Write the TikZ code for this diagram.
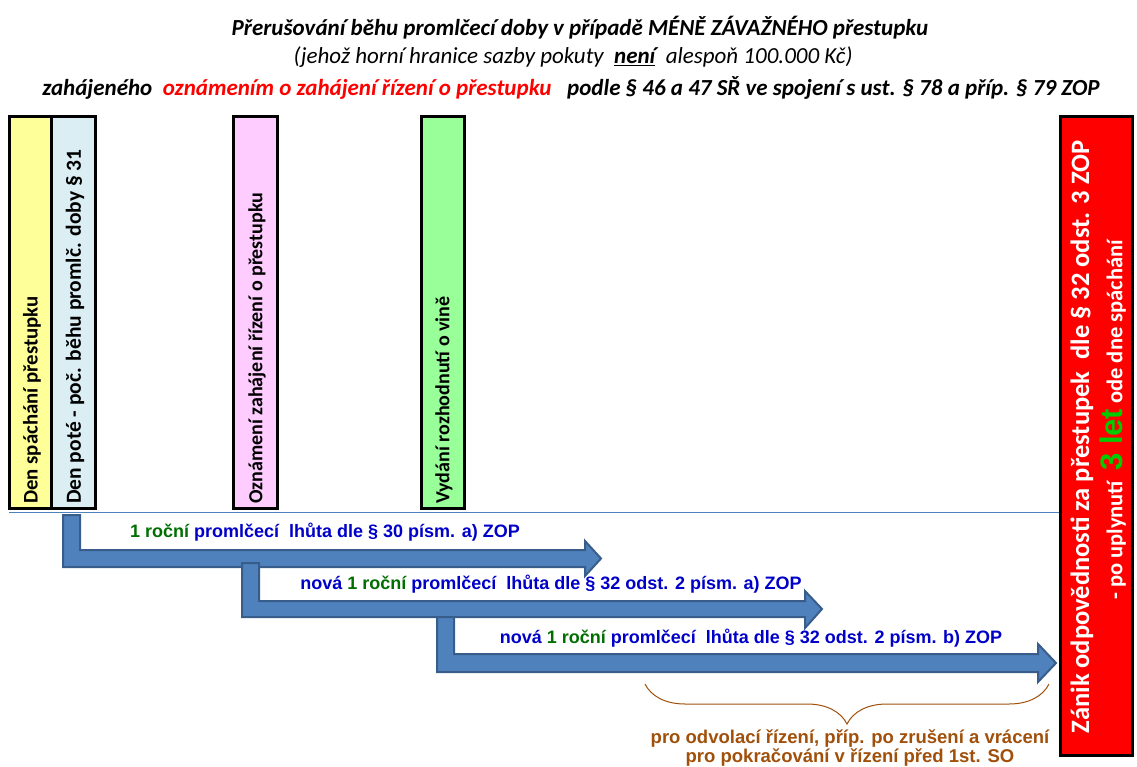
\documentclass[tikz,border=0pt]{standalone}
\usepackage{fontspec}
\setmainfont{Carlito}
\newfontfamily\arialfont{Liberation Sans}
\usetikzlibrary{decorations.pathreplacing}

\definecolor{boxyellow}{RGB}{255,255,153}
\definecolor{boxblue}{RGB}{218,238,243}
\definecolor{boxpink}{RGB}{255,204,255}
\definecolor{boxgreen}{RGB}{153,255,153}
\definecolor{arrowblue}{RGB}{79,129,189}
\definecolor{arrowedge}{RGB}{56,93,138}
\definecolor{lhutablue}{RGB}{0,0,200}
\definecolor{lhutagreen}{RGB}{0,110,0}
\definecolor{letgreen}{RGB}{0,204,0}
\definecolor{bracebrown}{RGB}{160,80,10}

\tikzset{
    eventbox/.style={draw=black, line width=3pt},
    eventtext/.style={rotate=90, anchor=west, inner sep=0pt, font=\bfseries\fontsize{#1}{23}\selectfont},
    eventtext/.default=20,
    zaniktext/.style={rotate=90, inner sep=0pt, text=white, font=\bfseries\fontsize{#1}{30}\selectfont},
    lhuta/.style={fill=arrowblue, draw=arrowedge, line width=2pt, line join=miter},
    lhutatext/.style={font=\arialfont\bfseries\fontsize{18}{21}\selectfont, text=lhutablue},
    nadpis/.style={font=\bfseries\itshape\fontsize{23}{27}\selectfont}
}

\begin{document}
\begin{tikzpicture}[x=1pt, y=-1pt]
    \useasboundingbox (0,0) rectangle (1137,767);

    % Nadpis
    \node[nadpis] (nadpis1) at (580,28) {Přerušování běhu promlčecí doby v případě MÉNĚ ZÁVAŽNÉHO přestupku};
    \node[font=\itshape\fontsize{23}{27}\selectfont] (nadpis2) at (573,57) {(jehož horní hranice sazby pokuty \ \underline{\textbf{není}}\ \ alespoň 100.000 Kč)};
    \node[nadpis] (nadpis3) at (571,88) {zahájeného \ \textcolor{red}{oznámením o zahájení řízení o přestupku} \ \ podle § 46 a 47 SŘ ve spojení s ust. § 78 a příp. § 79 ZOP};

    % Sloupce udalosti
    \draw[eventbox, fill=boxyellow] (9,117) rectangle (51,508);
    \draw[eventbox, fill=boxblue] (51,117) rectangle (95,508);
    \draw[eventbox, fill=boxpink] (233,117) rectangle (277,508);
    \draw[eventbox, fill=boxgreen] (421,117) rectangle (464,508);
    \node[eventtext=20.8] (spachani) at (32,504) {Den spáchání přestupku};
    \node[eventtext=21.5] (pocatek) at (75,504) {Den poté - poč. běhu promlč. doby § 31};
    \node[eventtext] (oznameni) at (257,504) {Oznámení zahájení řízení o přestupku};
    \node[eventtext] (vydani) at (444,504) {Vydání rozhodnutí o vině};

    % Casova osa
    \draw[arrowblue, line width=1pt] (9,512) -- (1059,512);

    % Zanik odpovednosti
    \draw[eventbox, fill=red] (1060,117) rectangle (1132,755);
    \node[zaniktext=26.5] (zanik1) at (1082,437) {Zánik odpovědnosti za přestupek \ dle § 32 odst. 3 ZOP};
    \node[zaniktext=22.5] (zanik2) at (1113,420)
        {- po uplynutí \ {\arialfont\fontsize{31}{31}\selectfont\textcolor{letgreen}{3 let}} ode dne spáchání};

    % Lhuty
    \draw[lhuta] (63,515) -- (80,515) -- (80,550) -- (585,550) -- (585,541) -- (601,558.5)
        -- (585,576) -- (585,567) -- (63,567) -- cycle;
    \draw[lhuta] (242,563) -- (259,563) -- (259,601) -- (805,601) -- (805,591) -- (822,609)
        -- (805,628) -- (805,617) -- (242,617) -- cycle;
    \draw[lhuta] (437,617) -- (454,617) -- (454,654) -- (1038,654) -- (1038,644) -- (1056,663)
        -- (1038,682) -- (1038,672) -- (437,672) -- cycle;

    \node[lhutatext] (lhuta1) at (325,532) {\textcolor{lhutagreen}{1 roční} promlčecí \ lhůta dle § 30 písm. a) ZOP};
    \node[lhutatext] (lhuta2) at (551,584) {nová \textcolor{lhutagreen}{1 roční} promlčecí \ lhůta dle § 32 odst. 2 písm. a) ZOP};
    \node[lhutatext] (lhuta3) at (751,638) {nová \textcolor{lhutagreen}{1 roční} promlčecí \ lhůta dle § 32 odst. 2 písm. b) ZOP};

    % Odvolaci rizeni
    \coordinate (bracestart) at (1049,684);
    \coordinate (braceend) at (645,684);
    \draw[bracebrown, line width=1pt, decorate, decoration={brace, amplitude=40pt}] (bracestart) -- (braceend);
    \node[font=\arialfont\bfseries\fontsize{18.5}{19}\selectfont, text=bracebrown, align=center, anchor=north, inner sep=0pt] (odvolani) at (850,729)
        {pro odvolací řízení, příp. po zrušení a vrácení\\ pro pokračování v řízení před 1st. SO};
\end{tikzpicture}
\end{document}
